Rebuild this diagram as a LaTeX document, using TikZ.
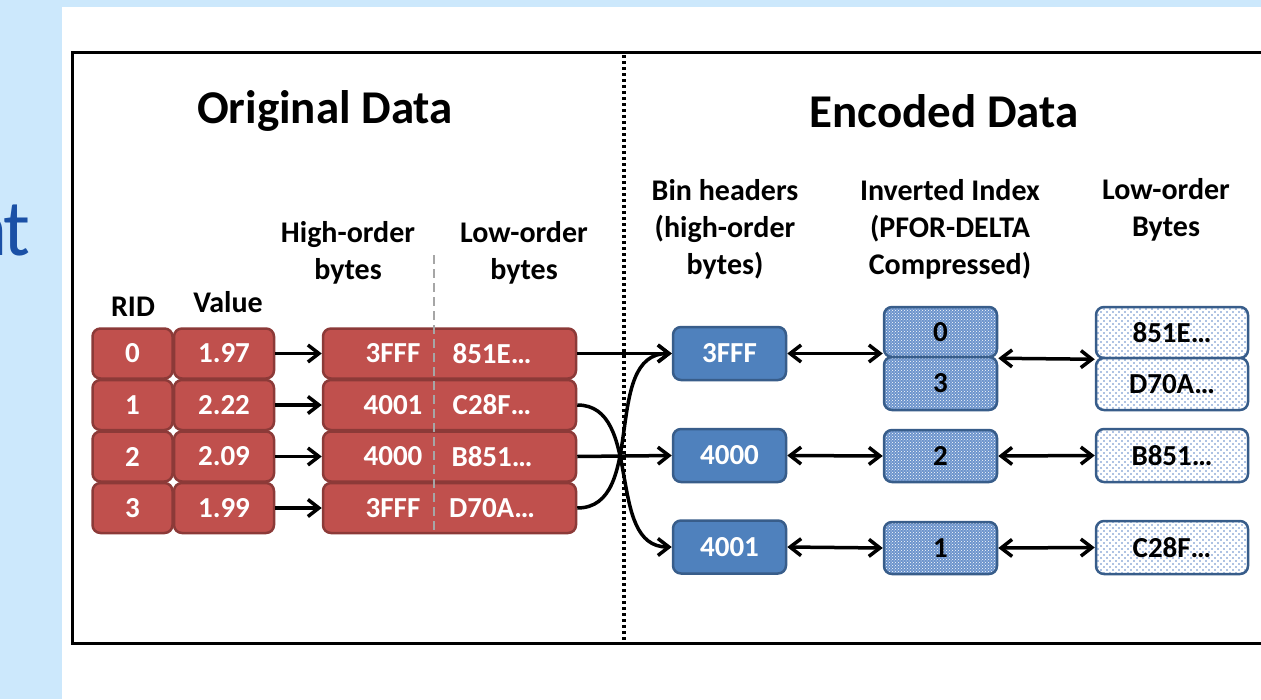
\documentclass[tikz,border=0pt]{standalone}
\usepackage{fontspec}
\setmainfont{Carlito}
\usetikzlibrary{arrows.meta,patterns}

\definecolor{slidebg}{RGB}{204,232,252}
\definecolor{slidetitle}{RGB}{26,80,166}
\definecolor{redfill}{RGB}{192,80,77}
\definecolor{redline}{RGB}{140,58,56}
\definecolor{binfill}{RGB}{79,129,189}
\definecolor{binline}{RGB}{56,93,138}
\definecolor{idxfill}{RGB}{108,148,204}
\definecolor{lowdot}{RGB}{95,135,200}

% staggered dots for the low-order byte cells
\pgfdeclarepatternformonly{sparse dots}{\pgfqpoint{-1pt}{-1pt}}{\pgfqpoint{4pt}{4pt}}{\pgfqpoint{6pt}{6pt}}{
  \pgfpathcircle{\pgfqpoint{0pt}{0pt}}{0.8pt}
  \pgfpathcircle{\pgfqpoint{3pt}{3pt}}{0.8pt}
  \pgfusepath{fill}
}

\begin{document}
\begin{tikzpicture}[x=1pt,y=-1pt,
    cell/.style={draw, line width=2.5pt, rounded corners=8pt, inner sep=0pt,
      minimum height=50pt, font=\fontsize{29}{34}\selectfont\bfseries},
    redcell/.style={cell, fill=redfill, draw=redline, text=white},
    bincell/.style={cell, fill=binfill, draw=binline, text=white,
      minimum width=113pt, minimum height=53pt},
    idxcell/.style={cell, draw=binline, preaction={fill=idxfill},
      pattern=crosshatch dots, pattern color=white, minimum width=113pt},
    lowcell/.style={cell, draw=binline, preaction={fill=white},
      pattern=sparse dots, pattern color=lowdot, minimum width=152pt},
    hdr/.style={font=\fontsize{30}{37}\selectfont\bfseries, align=center},
    ttl/.style={font=\fontsize{47}{56}\selectfont\bfseries},
    link/.style={line width=3.5pt, -{Straight Barb[length=11pt,width=17pt]}},
    both/.style={line width=3.5pt,
      {Straight Barb[length=11pt,width=17pt]}-{Straight Barb[length=11pt,width=17pt]}}]

    \useasboundingbox (0,0) rectangle (1261,699);
    \clip (0,0) rectangle (1261,699);

    % slide background and white panel
    \fill[slidebg] (0,0) rectangle (1261,699);
    \fill[white] (62,7) rectangle (1261,699);
    \node[anchor=base east, inner sep=0pt, text=slidetitle,
      font=\fontsize{80}{90}\selectfont] (slidettl) at (31,255) {n\kern-4pt t};

    % frame and the split between both halves
    \draw[line width=3pt] (1270,52) -- (72,52) -- (72,643) -- (1270,643);
    \draw[line width=3.5pt, dash pattern=on 3pt off 3pt] (624,55) -- (624,645);

    % Headers
    \node[ttl] (origttl) at (325,111) {Original Data};
    \node[ttl] (encttl) at (944,111) {Encoded Data};
    \node[hdr] (ridhdr) at (133,307) {RID};
    \node[hdr] (valhdr) at (228,302) {Value};
    \node[hdr] (hihdr) at (348,253) {High-order\\bytes};
    \node[hdr] (lohdr) at (524,253) {Low-order\\bytes};
    \node[hdr] (binhdr) at (725,229) {Bin headers\\(high-order\\bytes)};
    \node[hdr] (idxhdr) at (950,229) {Inverted Index\\(PFOR-DELTA\\Compressed)};
    \node[hdr] (lowhdr) at (1166,210) {Low-order\\Bytes};

    % Draw the original rows
    \foreach \rid/\val/\hi/\lo [count=\i from 0] in
        {0/1.97/3FFF/851E…, 1/2.22/4001/C28F…, 2/2.09/4000/B851…, 3/1.99/3FFF/D70A…} {
        \pgfmathsetmacro\yy{353.5+51.5*\i}
        \node[redcell, minimum width=80pt] (rid\i) at (132.5,\yy) {\rid};
        \node[redcell, minimum width=100pt] (val\i) at (224,\yy) {\val};
        \node[redcell, minimum width=253pt] (enc\i) at (449.5,\yy) {};
        \node[text=white, font=\fontsize{29}{34}\selectfont\bfseries] (hi\i) at (393,\yy) {\hi};
        \node[text=white, font=\fontsize{29}{34}\selectfont\bfseries] (lo\i) at (492,\yy) {\lo};
        \draw[link] (val\i.east) -- (enc\i.west);
    }
    \draw[gray!70, line width=2.5pt, dash pattern=on 9pt off 5pt] (434,255) -- (434,533);

    % Draw the encoded side
    \node[bincell] (bin3fff) at (729.5,353.5) {3FFF};
    \node[bincell] (bin4000) at (729.5,455.5) {4000};
    \node[bincell] (bin4001) at (729.5,547) {4001};

    \node[idxcell, minimum height=50pt] (idx0) at (940.5,332) {0};
    \node[idxcell, minimum height=53pt] (idx3) at (940.5,383.5) {3};
    \node[idxcell, minimum height=52pt] (idx2) at (940.5,456) {2};
    \node[idxcell, minimum height=52pt] (idx1) at (940.5,548) {1};

    \node[lowcell, minimum height=51pt] (low0) at (1172,332.5) {851E…};
    \node[lowcell, minimum height=52pt] (low3) at (1172,384) {D70A…};
    \node[lowcell, minimum height=53pt] (low2) at (1172,455.5) {B851…};
    \node[lowcell, minimum height=53pt] (low1) at (1172,547.5) {C28F…};

    % rows into their bins
    \draw[link] (enc0.east) -- (bin3fff.west);
    \draw[link] (enc2.east) -- (bin4000.west);
    \draw[link] (enc1.east) to[out=0,in=180] (bin4001.west);
    \draw[link] (enc3.east) to[out=0,in=180] (bin3fff.west);

    % bins, index and low-order bytes
    \draw[both] (bin3fff.east) -- (bin3fff.east -| idx0.west);
    \draw[both] (idx0.south east) -- (low0.south west);
    \draw[both] (bin4000.east) -- (idx2.west);
    \draw[both] (idx2.east) -- (low2.west);
    \draw[both] (bin4001.east) -- (idx1.west);
    \draw[both] (idx1.east) -- (low1.west);

\end{tikzpicture}
\end{document}
